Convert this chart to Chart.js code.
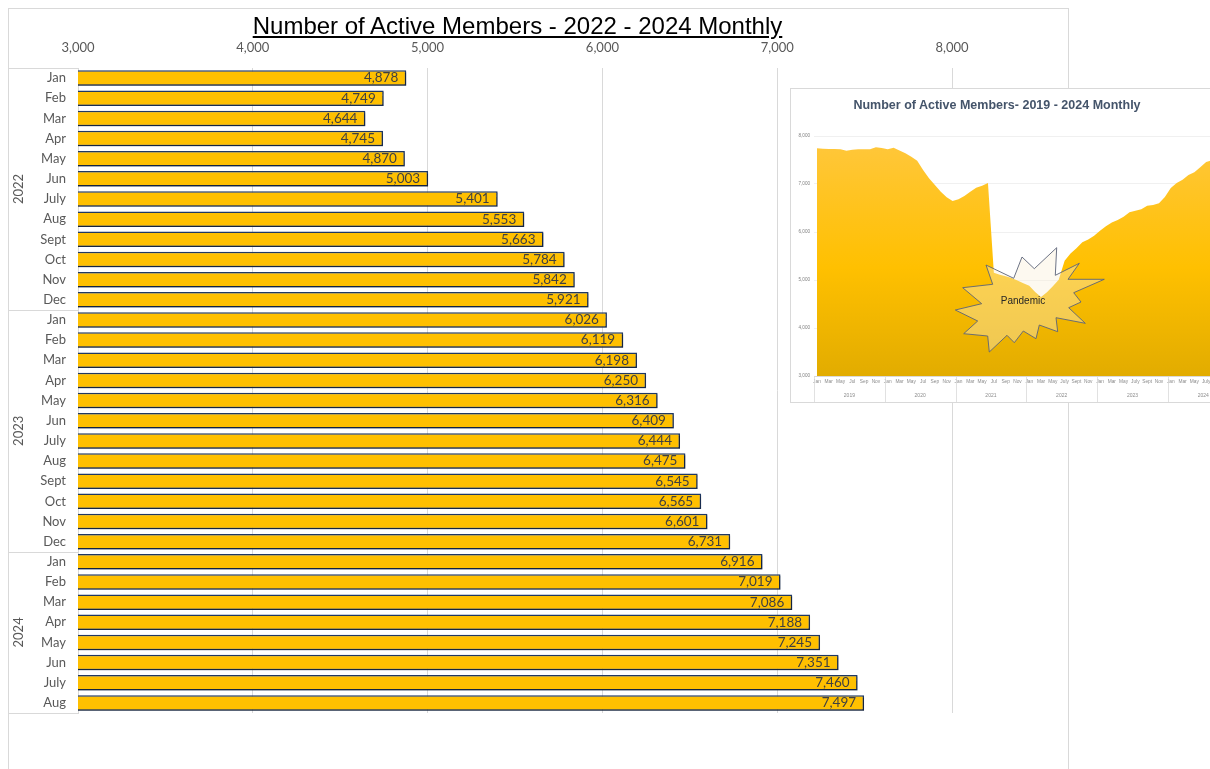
<!DOCTYPE html>
<html>
<head>
<meta charset="utf-8">
<script src="https://cdn.jsdelivr.net/npm/chart.js@4.4.1/dist/chart.umd.min.js"></script>
<style>
  html, body { margin: 0; padding: 0; background: #fff; width: 1210px; height: 769px; overflow: hidden; position: relative; }
  #frame { position: absolute; left: 8px; top: 8px; width: 1059px; height: 800px; border: 1px solid #d9d9d9; }
  #mainWrap { position: absolute; left: 8px; top: 8px; width: 1060px; height: 761px; }
  #title { position: absolute; left: 0; top: 12px; width: 1035px; text-align: center;
           font: 24px "Liberation Sans", Arial, sans-serif; text-decoration: underline; color: #000; }
  #inset { position: absolute; left: 790px; top: 88px; width: 430px; height: 313px; border: 1px solid #d9d9d9; background: #fff; }
  #insetWrap { position: absolute; left: 0; top: 0; width: 430px; height: 313px; }
  #insetTitle { position: absolute; left: 0; top: 9px; width: 412px; text-align: center;
                font: bold 12.5px "Liberation Sans", Arial, sans-serif; color: #44546A; }
  #burst { position: absolute; left: 0; top: 0; width: 430px; height: 313px; }
</style>
</head>
<body>
<div id="frame"></div>
<div id="mainWrap"><canvas id="main"></canvas></div>
<div id="title">Number of Active Members - 2022 - 2024 Monthly</div>

<div id="inset">
  <div id="insetWrap"><canvas id="history"></canvas></div>
  <div id="insetTitle">Number of Active Members- 2019 - 2024 Monthly</div>
  <svg id="burst" width="430" height="313">
    <polygon points="195,176 201.7,195.3 171.7,198.7 190.7,214.7 164.3,221 186.7,232 172.7,244.7 196.7,247 198.3,263 216,246.3 223.3,253.7 232.3,242 245,249.7 248.3,236 266.7,242.7 265,228.7 294.3,234.3 277.7,218.7 290,213 282.7,203.7 313.3,190.3 277,190.3 288.3,174.3 264.3,186.3 265.7,158.7 243.3,179.7 231,168 222.7,189.3"
      fill="rgba(250,240,215,0.38)" stroke="#5b6378" stroke-width="0.9" stroke-linejoin="miter"/>
    <text x="232" y="215" text-anchor="middle" font-family="Liberation Sans, Arial, sans-serif" font-size="10" fill="#262626">Pandemic</text>
  </svg>
</div>

<script>
// Main chart data (2022 - 2024)
const years = ['2022', '2023', '2024'];
const months2022 = ['Jan', 'Feb', 'Mar', 'Apr', 'May', 'Jun', 'July', 'Aug', 'Sept', 'Oct', 'Nov', 'Dec'];
const months2023 = ['Jan', 'Feb', 'Mar', 'Apr', 'May', 'Jun', 'July', 'Aug', 'Sept', 'Oct', 'Nov', 'Dec'];
const months2024 = ['Jan', 'Feb', 'Mar', 'Apr', 'May', 'Jun', 'July', 'Aug'];
const members2022 = [4878, 4749, 4644, 4745, 4870, 5003, 5401, 5553, 5663, 5784, 5842, 5921];
const members2023 = [6026, 6119, 6198, 6250, 6316, 6409, 6444, 6475, 6545, 6565, 6601, 6731];
const members2024 = [6916, 7019, 7086, 7188, 7245, 7351, 7460, 7497];

// Inset data (2019 - 2021)
const oldYears = ['2019', '2020', '2021'];
const oldMonths = ['Jan', 'Feb', 'Mar', 'Apr', 'May', 'Jun', 'Jul', 'Aug', 'Sep', 'Oct', 'Nov', 'Dec'];
const members2019 = [7744, 7735, 7730, 7728, 7723, 7694, 7715, 7723, 7723, 7726, 7764, 7750];
const members2020 = [7723, 7755, 7700, 7640, 7570, 7486, 7290, 7118, 6979, 6840, 6722, 6646];
const members2021 = [6681, 6750, 6840, 6924, 6965, 7020, 5150, 5110, 5080, 5040, 4990, 4930];

const fmt = v => v.toLocaleString('en-US');

// Build main chart rows
const monthGroups = [months2022, months2023, months2024];
const valueGroups = [members2022, members2023, members2024];
const mainLabels = monthGroups.flat();
const mainValues = valueGroups.flat();

// Excel style group labels for the category axis
const yearGroupPlugin = {
  id: 'yearGroups',
  afterDraw(chart) {
    const ctx = chart.ctx;
    const y = chart.scales.y;
    const area = chart.chartArea;
    const step = (area.bottom - area.top) / mainLabels.length;
    ctx.save();
    ctx.strokeStyle = '#d9d9d9';
    ctx.lineWidth = 1;
    let start = 0;
    const edges = [0];
    monthGroups.forEach(g => { start += g.length; edges.push(start); });
    edges.forEach(e => {
      const py = Math.round(y.getPixelForValue(Math.min(e, mainLabels.length - 1)) + (e === mainLabels.length ? step / 2 : -step / 2)) + 0.5;
      ctx.beginPath();
      ctx.moveTo(0, py);
      ctx.lineTo(area.left, py);
      ctx.stroke();
    });
    ctx.fillStyle = '#595959';
    ctx.font = '13px Lato, "Open Sans", sans-serif';
    ctx.textAlign = 'center';
    ctx.textBaseline = 'middle';
    years.forEach((yr, i) => {
      const top = y.getPixelForValue(edges[i]) - step / 2;
      const bottom = y.getPixelForValue(edges[i + 1] - 1) + step / 2;
      ctx.save();
      ctx.translate(11, (top + bottom) / 2);
      ctx.rotate(-Math.PI / 2);
      ctx.fillText(yr, 0, 0);
      ctx.restore();
    });
    ctx.restore();
  }
};

const barLabelPlugin = {
  id: 'barLabels',
  beforeDatasetsDraw(chart) {
    const ctx = chart.ctx;
    ctx.save();
    ctx.shadowColor = 'rgba(0,0,0,0.35)';
    ctx.shadowOffsetX = 1;
    ctx.shadowOffsetY = 1.5;
    ctx.shadowBlur = 1;
  },
  afterDatasetsDraw(chart) {
    const ctx = chart.ctx;
    ctx.restore();
    const meta = chart.getDatasetMeta(0);
    ctx.save();
    ctx.fillStyle = '#404040';
    ctx.font = '13.5px Lato, "Open Sans", sans-serif';
    ctx.textAlign = 'right';
    ctx.textBaseline = 'middle';
    meta.data.forEach((bar, i) => {
      ctx.fillText(fmt(mainValues[i]), bar.x - 8, bar.y);
    });
    ctx.restore();
  }
};

new Chart(document.getElementById('main'), {
  type: 'bar',
  data: {
    labels: mainLabels,
    datasets: [{
      data: mainValues,
      backgroundColor: '#FFC000',
      borderColor: '#1F3864',
      borderWidth: 1.5,
      borderSkipped: false,
      barPercentage: 0.77,
      categoryPercentage: 1
    }]
  },
  options: {
    indexAxis: 'y',
    responsive: true,
    maintainAspectRatio: false,
    animation: false,
    layout: { padding: { left: 0, right: 116, top: 0, bottom: 56 } },
    plugins: { legend: { display: false }, tooltip: { enabled: false } },
    scales: {
      x: {
        position: 'top',
        min: 3000,
        max: 8000,
        ticks: { stepSize: 1000, padding: 12, color: '#595959', font: { family: 'Lato, "Open Sans", sans-serif', size: 13 }, callback: v => fmt(v) },
        grid: { color: '#d9d9d9', drawTicks: false },
        border: { display: false },
        afterFit: s => { s.height = 60; }
      },
      y: {
        ticks: { padding: 12, color: '#595959', font: { family: 'Lato, "Open Sans", sans-serif', size: 13 }, autoSkip: false },
        grid: { display: false, drawTicks: false },
        border: { color: '#d9d9d9' },
        afterFit: s => { s.width = 70; }
      }
    }
  },
  plugins: [yearGroupPlugin, barLabelPlugin]
});

// Inset: 2019 - 2024 monthly area chart
const newMonths = ['Jan', 'Feb', 'Mar', 'Apr', 'May', 'Jun', 'July', 'Aug', 'Sept', 'Oct', 'Nov', 'Dec'];
const allYears = oldYears.concat(years);
const historyLabels = [];
const historyYearOf = [];
[oldMonths, oldMonths, oldMonths].forEach((m, i) => m.forEach(n => { historyLabels.push(n); historyYearOf.push(oldYears[i]); }));
[newMonths, newMonths, months2024].forEach((m, i) => m.forEach(n => { historyLabels.push(n); historyYearOf.push(years[i]); }));
const historyValues = [members2019, members2020, members2021, members2022, members2023, members2024].flat();

const insetYearPlugin = {
  id: 'insetYears',
  afterDraw(chart) {
    const ctx = chart.ctx;
    const x = chart.scales.x;
    const area = chart.chartArea;
    const half = (x.getPixelForValue(1) - x.getPixelForValue(0)) / 2;
    ctx.save();
    ctx.strokeStyle = '#d9d9d9';
    ctx.lineWidth = 0.8;
    ctx.fillStyle = '#8c8c8c';
    ctx.font = '5px "Liberation Sans", Arial, sans-serif';
    ctx.textAlign = 'center';
    ctx.textBaseline = 'middle';
    allYears.forEach(yr => {
      const first = historyYearOf.indexOf(yr);
      const last = historyYearOf.lastIndexOf(yr);
      const left = x.getPixelForValue(first) - half;
      const right = x.getPixelForValue(last) + half;
      ctx.beginPath();
      ctx.moveTo(Math.round(left) + 0.5, area.bottom);
      ctx.lineTo(Math.round(left) + 0.5, area.bottom + 26);
      ctx.stroke();
      const full = x.getPixelForValue(first) - half + 12 * half * 2;
      ctx.fillText(yr, (left + Math.max(right, full)) / 2, area.bottom + 20);
    });
    ctx.restore();
  }
};

new Chart(document.getElementById('history'), {
  type: 'line',
  data: {
    labels: historyLabels,
    datasets: [{
      data: historyValues,
      fill: 'start',
      borderWidth: 0,
      pointRadius: 0,
      tension: 0,
      backgroundColor: c => {
        const a = c.chart.chartArea;
        if (!a) return '#FFC000';
        const g = c.chart.ctx.createLinearGradient(0, a.top, 0, a.bottom);
        g.addColorStop(0, '#FFC73E');
        g.addColorStop(0.55, '#FFC000');
        g.addColorStop(1, '#E2AC00');
        return g;
      }
    }]
  },
  options: {
    responsive: true,
    maintainAspectRatio: false,
    animation: false,
    layout: { padding: { left: 0, right: 6, top: 47, bottom: 0 } },
    plugins: { legend: { display: false }, tooltip: { enabled: false } },
    scales: {
      x: {
        offset: true,
        ticks: {
          autoSkip: false, maxRotation: 0, minRotation: 0, padding: 3,
          color: '#8c8c8c', font: { family: '"Liberation Sans", Arial, sans-serif', size: 4.8 },
          callback: (v, i) => (i % 2 === 0 ? historyLabels[i] : '')
        },
        grid: { display: false, drawTicks: false },
        border: { color: '#d9d9d9' },
        afterFit: s => { s.height = 26; }
      },
      y: {
        min: 3000,
        max: 8000,
        ticks: { stepSize: 1000, padding: 4, color: '#7f7f7f', font: { family: '"Liberation Sans", Arial, sans-serif', size: 4.6 }, callback: v => fmt(v) },
        grid: { color: '#f0f0f0', drawTicks: false },
        border: { display: false },
        afterFit: s => { s.width = 23; }
      }
    }
  },
  plugins: [insetYearPlugin]
});
</script>
</body>
</html>
